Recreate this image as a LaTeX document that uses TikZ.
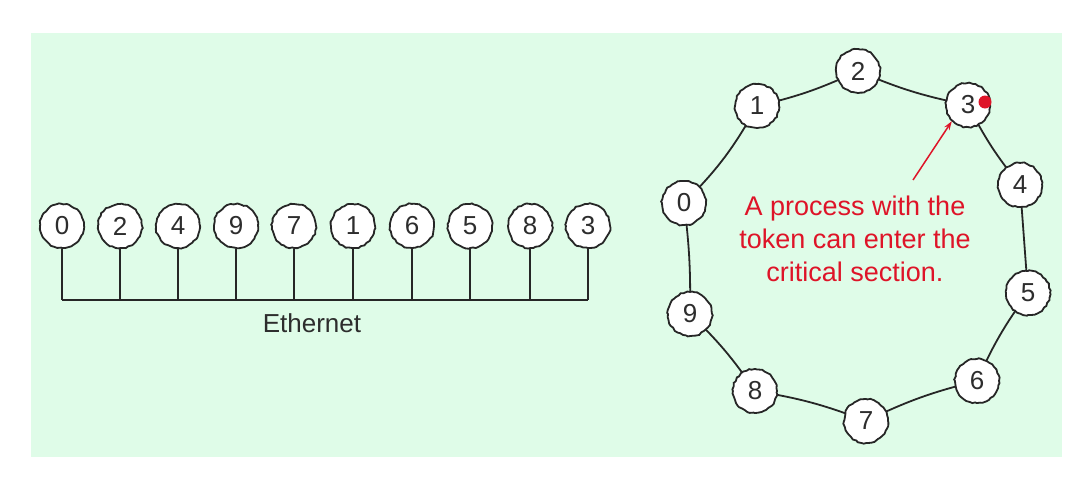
\documentclass[tikz,border=0pt]{standalone}
\usepackage{fontspec}
\setmainfont{Liberation Sans}
\usetikzlibrary{arrows.meta,decorations.pathmorphing}
\definecolor{bgc}{RGB}{223,252,232}
\definecolor{tokred}{RGB}{222,20,40}
\definecolor{txtgray}{RGB}{45,45,45}
\begin{document}
\begin{tikzpicture}[x=1pt,y=-1pt,
  pnode/.style={circle, draw=black!85, fill=white, minimum size=44pt, inner sep=0pt,
    line width=1.8pt, text=txtgray, font=\fontsize{26}{26}\selectfont,
    decorate, decoration={random steps, segment length=3pt, amplitude=0.7pt}},
  wire/.style={draw=black!85, line width=1.8pt},
  note/.style={text=tokred, align=center, font=\fontsize{27}{33}\selectfont}]
\useasboundingbox (0,0) rectangle (1090,480);
\fill[bgc] (31,33) rectangle (1062,457);
% Ethernet bus
\coordinate (busL) at (62,300);
\coordinate (busR) at (588,300);
\draw[wire] (busL) -- (busR);
\foreach \lbl/\xx [count=\i] in {0/62,2/120,4/178,9/236,7/294,1/353,6/412,5/470,8/530,3/588}{
  \coordinate (b\i) at (\xx,300);
  \node[pnode] (e\i) at (\xx,226) {\lbl};
  \draw[wire] (e\i) -- (b\i);
}
\node[text=txtgray, font=\fontsize{26}{26}\selectfont] (eth) at (312,323) {Ethernet};
% Ring
\coordinate (r0) at (684,203);
\coordinate (r1) at (757,106);
\coordinate (r2) at (858,71);
\coordinate (r3) at (968,105);
\coordinate (r4) at (1020,185);
\coordinate (r5) at (1028,293);
\coordinate (r6) at (977,381);
\coordinate (r7) at (866,421);
\coordinate (r8) at (755,391);
\coordinate (r9) at (690,314);
\draw[wire] (r0) to[bend right=8] (r1) to[bend right=6] (r2) to[bend right=6] (r3)
  to[bend right=6] (r4) -- (r5) to[bend right=6] (r6) to[bend right=6] (r7)
  to[bend right=6] (r8) to[bend right=6] (r9) to[bend right=4] (r0);
\foreach \k in {0,...,9}{
  \node[pnode] (n\k) at (r\k) {\k};
}
\fill[tokred] (985,102) circle (6.5pt);
\node[note] (msg) at (855,239) {A process with the\\token can enter the\\critical section.};
\coordinate (arrstart) at (913,180);
\draw[tokred, line width=1.5pt, -{Stealth[length=9pt,width=6pt]}] (arrstart) -- (n3.225);
\end{tikzpicture}
\end{document}
